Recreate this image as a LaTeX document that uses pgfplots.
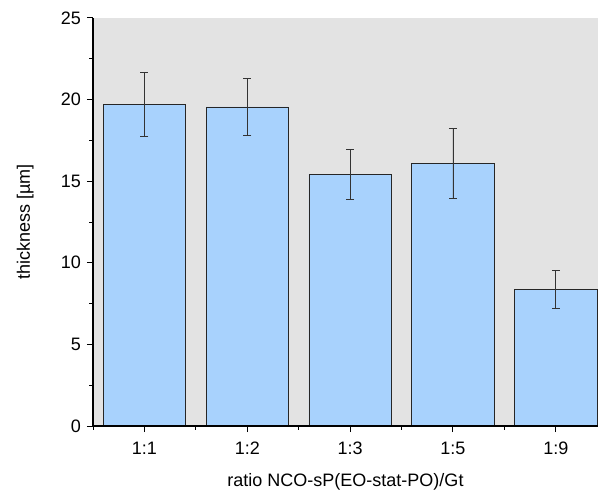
\documentclass[border=0pt]{standalone}
\usepackage{pgfplots}
\pgfplotsset{compat=1.18}
\usepackage{fontspec}
\setmainfont{Liberation Sans}
\definecolor{barfill}{RGB}{168,210,253}
\definecolor{bggray}{RGB}{227,227,227}
\begin{document}
\fontsize{18bp}{21bp}\selectfont
\begin{tikzpicture}
\begin{axis}[
  scale only axis,
  width=505bp, height=408bp,
  xmin=-0.5, xmax=4.41,
  ymin=0, ymax=25,
  axis on top,
  axis x line*=bottom, axis y line*=left,
  axis line style={line width=1.3pt, -},
  axis background/.style={fill=bggray},
  xtick={0,1,2,3,4},
  xticklabels={1:1,1:2,1:3,1:5,1:9},
  minor xtick={-0.5,0.5,1.5,2.5,3.5},
  ytick={0,5,10,15,20,25},
  minor ytick={2.5,7.5,12.5,17.5,22.5},
  tick align=outside,
  major tick length=6bp, minor tick length=3.5bp,
  tick style={line width=1pt, black},
  /pgf/number format/assume math mode=true,
  ticklabel style={font=\fontsize{18bp}{21bp}\selectfont},
  label style={font=\fontsize{18bp}{21bp}\selectfont},
  xlabel={ratio NCO-sP(EO-stat-PO)/Gt},
  ylabel={thickness [µm]},
  xticklabel style={yshift=-4bp},
  xlabel style={yshift=-6bp},
  ylabel style={yshift=15bp},
  clip=false,
]
\addplot[ybar, bar width=0.8, fill=barfill, draw=black!85, line width=0.8pt,
  error bars/.cd, y dir=both, y explicit,
  error bar style={line width=0.8pt, black!80},
  error mark options={rotate=90, mark size=4bp, line width=0.8pt, black!80}]
coordinates {
  (0,19.73) +- (0,1.96)
  (1,19.55) +- (0,1.72)
  (2,15.44) +- (0,1.53)
  (3,16.11) +- (0,2.15)
  (4,8.39) +- (0,1.16)
};
\coordinate (bl) at (rel axis cs:0,0);
\coordinate (tr) at (rel axis cs:1,1);
\end{axis}
\pgfresetboundingbox
\path[use as bounding box] ([shift={(-93bp,-72bp)}]bl) rectangle ([shift={(0bp,18bp)}]tr);
\end{tikzpicture}
\end{document}
